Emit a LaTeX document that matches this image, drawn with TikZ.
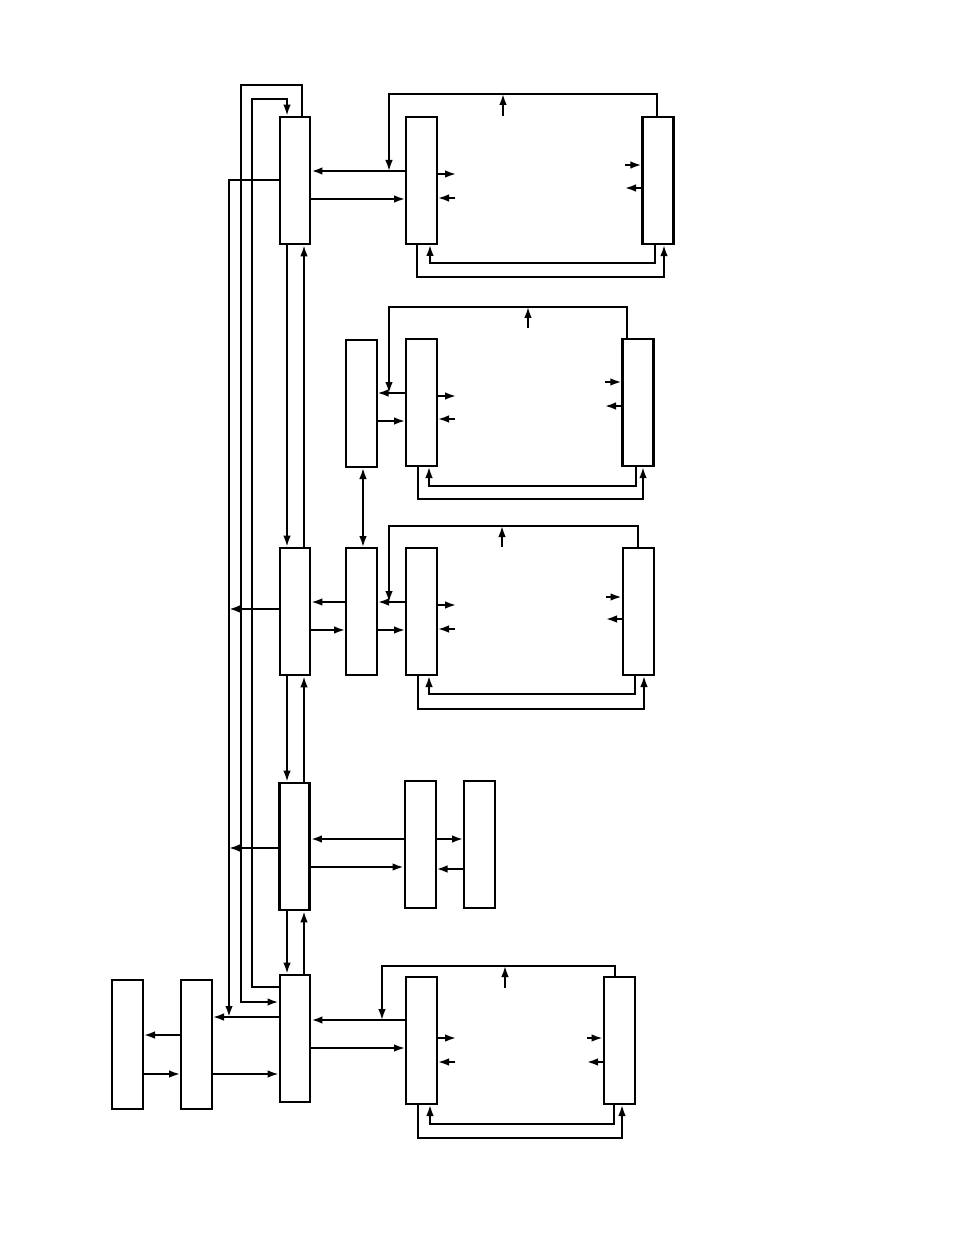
\documentclass[tikz,border=0pt]{standalone}
\usetikzlibrary{arrows.meta}
\tikzset{
  blk/.style={draw,line width=1pt,minimum width=15.5pt,minimum height=63.5pt,inner sep=0pt},
  mainblk/.style={blk,line width=1.4pt,minimum width=15pt},
  arr/.style={-{Latex[length=5.5pt,width=3.8pt]}},
  arrboth/.style={{Latex[length=5.5pt,width=3.8pt]}-{Latex[length=5.5pt,width=3.8pt]}},
  heavy/.style={line width=1.3pt},
}
\begin{document}
\begin{tikzpicture}[x=0.5pt,y=-0.5pt,line width=0.9pt]
\useasboundingbox (0,0) rectangle (954,1235);
% main column
\node[mainblk] (A) at (295,180.5) {};
\node[mainblk] (C) at (295,611.5) {};
\node[mainblk] (D) at (294.5,846.5) {};
\node[mainblk] (E) at (295,1038.5) {};
% input side
\node[blk,minimum height=64.5pt] (G) at (127.5,1044.5) {};
\node[blk,minimum height=64.5pt] (F) at (196.5,1044.5) {};
% right groups
\node[blk] (H1) at (421.5,180.5) {};
\node[blk,line width=1.2pt] (K1) at (658,180.5) {};
\node[blk] (L) at (361,403.5) {};
\node[blk] (H2) at (421.5,402.5) {};
\node[blk,line width=1.2pt] (K2) at (638,402.5) {};
\node[blk] (M) at (361.5,611.5) {};
\node[blk] (H3) at (421.5,611.5) {};
\node[blk] (K3) at (638,611.5) {};
\node[blk] (N) at (420,844.5) {};
\node[blk] (P) at (479.5,844.5) {};
\node[blk] (H5) at (421.5,1040.5) {};
\node[blk] (K5) at (619,1040.5) {};
% column links
\draw[arr] (A.south -| 287,0) -- (C.north -| 287,0);
\draw[arr] (C.north -| 304,0) -- (A.south -| 304,0);
\draw[arr] (C.south -| 287,0) -- (D.north -| 287,0);
\draw[arr] (D.north -| 304,0) -- (C.south -| 304,0);
\draw[arr] (D.south -| 287,0) -- (E.north -| 287,0);
\draw[arr] (E.north -| 304,0) -- (D.south -| 304,0);
% left bus
\draw[arr,heavy] (A.west |- 0,180) -| (229,1017);
\draw[arr,heavy] (A.north -| 302,0) |- (241,85) |- (E.west |- 0,1002);
\draw[arr] (E.west |- 0,987) -| (252,99) -| (A.north -| 287,0);
\draw[arr,heavy] (C.west |- 0,609) -- (229,609);
\draw[arr] (D.west |- 0,848) -- (229,848);
% input
\draw[arr] (E.west |- 0,1017) -- (F.east |- 0,1017);
\draw[arr] (F.east |- 0,1074) -- (E.west |- 0,1074);
\draw[arr] (F.west |- 0,1035) -- (G.east |- 0,1035);
\draw[arr] (G.east |- 0,1074) -- (F.west |- 0,1074);
% group 1
\draw[arr,heavy] (H1.west |- 0,171) -- (A.east |- 0,171);
\draw[arr] (A.east |- 0,199) -- (H1.west |- 0,199);
\draw[arr] (K1.north -| 657,0) |- (389,94) -- (389,171);
\draw[arr] (503,116) -- (503,94);
\draw[arr] (H1.east |- 0,174) -- ++(18,0);
\draw[arr] (455,198) -- (H1.east |- 0,198);
\draw[arr] (625,165) -- (K1.west |- 0,165);
\draw[arr] (K1.west |- 0,188) -- (625,188);
\draw[arr] (H1.south -| 417,0) |- (664,277) -- (K1.south -| 664,0);
\draw[arr] (K1.south -| 655,0) |- (430,263) -- (H1.south -| 430,0);
% group 2
\draw[arr] (H2.west |- 0,393) -- (L.east |- 0,393);
\draw[arr] (L.east |- 0,421) -- (H2.west |- 0,421);
\draw[arr] (K2.north -| 627,0) |- (389,307) -- (389,393);
\draw[arr] (528,328) -- (528,307);
\draw[arr] (H2.east |- 0,396) -- ++(18,0);
\draw[arr] (455,419) -- (H2.east |- 0,419);
\draw[arr] (605,382) -- (K2.west |- 0,382);
\draw[arr] (K2.west |- 0,406) -- (605,406);
\draw[arr] (H2.south -| 418,0) |- (643,499) -- (K2.south -| 643,0);
\draw[arr] (K2.south -| 636,0) |- (429,486) -- (H2.south -| 429,0);
\draw[arrboth] (L.south -| 363,0) -- (M.north -| 363,0);
% group 3
\draw[arr] (M.west |- 0,602) -- (C.east |- 0,602);
\draw[arr] (C.east |- 0,630) -- (M.west |- 0,630);
\draw[arr] (H3.west |- 0,602) -- (M.east |- 0,602);
\draw[arr] (M.east |- 0,630) -- (H3.west |- 0,630);
\draw[arr] (K3.north -| 638,0) |- (389,526) -- (389,602);
\draw[arr] (502,547) -- (502,526);
\draw[arr] (H3.east |- 0,605) -- ++(18,0);
\draw[arr] (455,629) -- (H3.east |- 0,629);
\draw[arr] (606,597) -- (K3.west |- 0,597);
\draw[arr] (K3.west |- 0,619) -- (606,619);
\draw[arr] (H3.south -| 418,0) |- (644,709) -- (K3.south -| 644,0);
\draw[arr] (K3.south -| 635,0) |- (429,694) -- (H3.south -| 429,0);
% group 4
\draw[arr,heavy] (N.west |- 0,839) -- (D.east |- 0,839);
\draw[arr] (D.east |- 0,867) -- (N.west |- 0,867);
\draw[arr] (N.east |- 0,839) -- (P.west |- 0,839);
\draw[arr,heavy] (P.west |- 0,869) -- (N.east |- 0,869);
% group 5
\draw[arr,heavy] (H5.west |- 0,1020) -- (E.east |- 0,1020);
\draw[arr] (E.east |- 0,1048) -- (H5.west |- 0,1048);
\draw[arr] (K5.north -| 615,0) |- (382,966) -- (382,1020);
\draw[arr] (505,988) -- (505,966);
\draw[arr] (H5.east |- 0,1038) -- ++(18,0);
\draw[arr] (455,1062) -- (H5.east |- 0,1062);
\draw[arr] (587,1038) -- (K5.west |- 0,1038);
\draw[arr] (K5.west |- 0,1062) -- (587,1062);
\draw[arr] (H5.south -| 418,0) |- (622,1138) -- (K5.south -| 622,0);
\draw[arr] (K5.south -| 614,0) |- (430,1124) -- (H5.south -| 430,0);
\end{tikzpicture}
\end{document}
